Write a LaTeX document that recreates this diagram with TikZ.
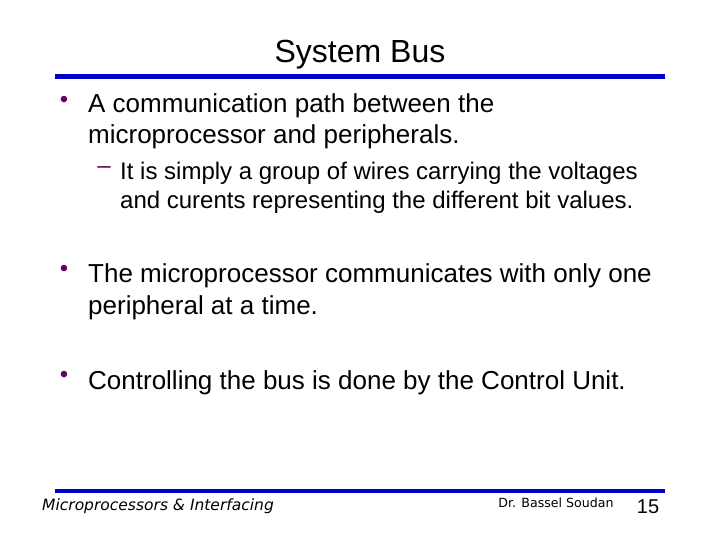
\documentclass[tikz,border=0pt]{standalone}
\usepackage{fontspec}
\setmainfont{Liberation Sans}
\newfontfamily\footfont{DejaVu Sans}
\definecolor{barblue}{RGB}{0,0,204}
\definecolor{bulletc}{RGB}{102,0,102}
\begin{document}
\begin{tikzpicture}[x=1pt,y=-1pt,
  main/.style={anchor=base west,inner sep=0pt,font=\fontsize{26}{26}\selectfont},
  sub/.style={anchor=base west,inner sep=0pt,font=\fontsize{24}{24}\selectfont},
  bul/.style={anchor=center,inner sep=0pt,text=bulletc,font=\fontsize{24}{24}\selectfont},
  foot/.style={anchor=base,inner sep=0pt,font=\footfont\itshape\fontsize{15.5}{15.5}\selectfont}]
\useasboundingbox (0,0) rectangle (720,540);
\node[anchor=base,inner sep=0pt,font=\fontsize{32}{32}\selectfont] (title) at (360,63) {System Bus};
\draw[barblue,line width=5pt] (55,77) coordinate (b1) -- (665,77) coordinate (b2);
\node[bul] (d1) at (64,102) {•};
\node[main] (t1a) at (88,113) {A communication path between the};
\node[main] (t1b) at (88,144) {microprocessor and peripherals.};
\node[anchor=center,inner sep=0pt,text=bulletc,font=\fontsize{24}{24}\selectfont] (d2) at (104,170) {–};
\node[sub] (t2a) at (120,180) {It is simply a group of wires carrying the voltages};
\node[sub] (t2b) at (120,209) {and curents representing the different bit values.};
\node[bul] (d3) at (64,271) {•};
\node[main] (t3a) at (88,282) {The microprocessor communicates with only one};
\node[main] (t3b) at (88,314) {peripheral at a time.};
\node[bul] (d4) at (64,377) {•};
\node[main] (t4) at (88,389) {Controlling the bus is done by the Control Unit.};
\draw[barblue,line width=4pt] (55,491) coordinate (f1) -- (665,491) coordinate (f2);
\node[foot] (ft1) at (158,510) {Microprocessors \& Interfacing};
\node[anchor=base,inner sep=0pt,font=\footfont\fontsize{12.6}{12.6}\selectfont] (ft2) at (556,507) {Dr. Bassel Soudan};
\node[anchor=base,inner sep=0pt,font=\fontsize{20}{20}\selectfont] (pg) at (648,513) {15};
\end{tikzpicture}
\end{document}
